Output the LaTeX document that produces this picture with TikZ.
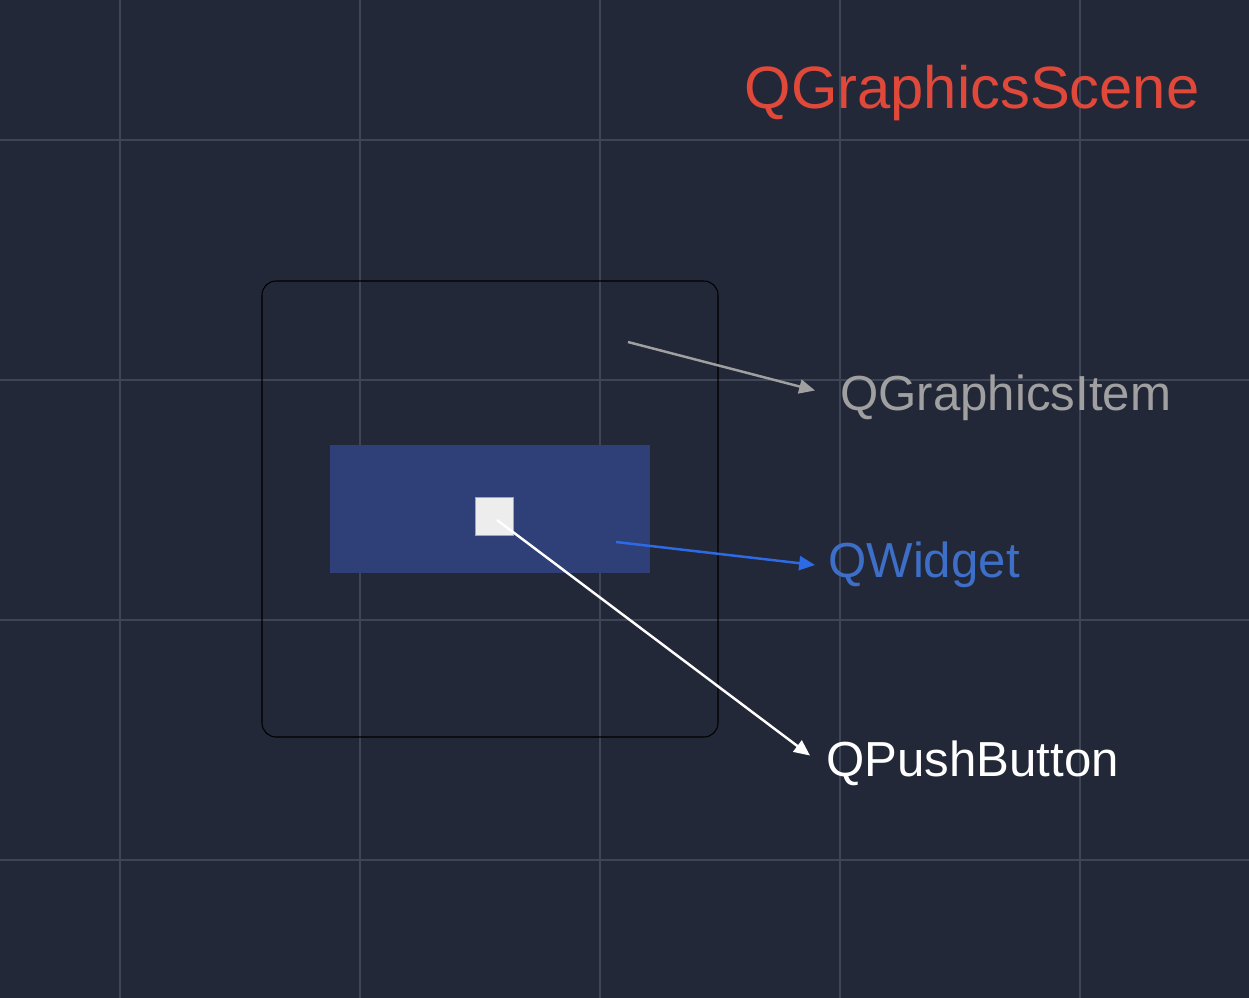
\documentclass[tikz,border=0pt]{standalone}
\usepackage{fontspec}
\setmainfont{Liberation Sans}
\usetikzlibrary{arrows.meta,positioning}
\definecolor{bgnavy}{HTML}{232838}
\definecolor{gridmin}{HTML}{2C3244}
\definecolor{gridmaj}{HTML}{3E4557}
\definecolor{widgetblue}{HTML}{2F3F77}
\definecolor{scenered}{HTML}{E0483A}
\definecolor{itemgray}{HTML}{A0A0A0}
\definecolor{widgettext}{HTML}{3E6FC8}
\definecolor{arrowblue}{HTML}{2D6BE6}
\begin{document}
\begin{tikzpicture} [x=0.02cm, y=-0.02cm,
    >={Triangle[length=9pt,width=8pt]},
    pointer/.style={->, line width=1.4pt},
    tag/.style={anchor=west, inner sep=0pt, font=\fontsize{28}{32}\selectfont}
  ]
  \fill [bgnavy] (0, 0) rectangle (1249, 998);
  \useasboundingbox (0, 0) rectangle (1249, 998);
  \draw [gridmin, line width=0.5pt, step=0.48cm, shift={(0, -998)}] (0, 0) grid (1249, 998);
  \foreach \gx in {120, 360, 600, 840, 1080}
    \draw [gridmaj, line width=1.2pt] (\gx, 0) -- (\gx, 998);
  \foreach \gy in {140, 380, 620, 860}
    \draw [gridmaj, line width=1.2pt] (0, \gy) -- (1249, \gy);

  \node [scenered, font=\fontsize{34}{40}\selectfont] (scene) at (972, 93) {QGraphicsScene};

  \draw [black, rounded corners=8pt, line width=0.6pt] (262, 281) rectangle (718, 737);
  \fill [widgetblue] (330, 445) rectangle (650, 573);
  \node [draw=gray!70, fill=white!93!black, minimum size=0.76cm, inner sep=0pt] (button) at (494, 516) {};

  \node [tag, itemgray] (item) at (840, 398) {QGraphicsItem};
  \node [tag, widgettext] (widget) at (828, 565) {QWidget};
  \node [tag, white] (push) at (826, 763) {QPushButton};

  \coordinate (itemtail) at (628, 342);
  \coordinate (widgettail) at (616, 542);
  \coordinate (pushtail) at (497, 520);
  \draw [pointer, itemgray] (itemtail) -- ([xshift=-0.5cm, yshift=0.15cm]item.west);
  \draw [pointer, arrowblue] (widgettail) -- ([xshift=-0.26cm]widget.west);
  \draw [pointer, white] (pushtail) -- ([xshift=-0.32cm, yshift=0.15cm]push.west);
\end{tikzpicture}
\end{document}
